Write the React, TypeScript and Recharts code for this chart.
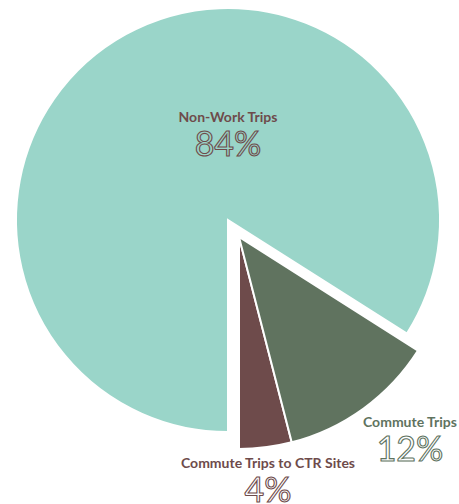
import { Cell, Pie, PieChart } from "recharts";

const categories = ["Commute Trips to CTR Sites", "Commute Trips", "Non-Work Trips"];
const shares = [4, 12, 84];
const colors = ["#6e4b4b", "#60735f", "#9ad5c9"];
const labelColors = ["#6e4b4b", "#60735f", "#6e4b4b"];

// label anchor offsets from the slice's own centre (name baseline)
const labelOffsets = [
  { dx: 29, dy: 231 },
  { dx: 171, dy: 190 },
  { dx: 0, dy: -98 },
];

const data = categories.map((name, i) => ({ name, value: shares[i] }));

const W = 459;
const H = 504;
const R = 212;

// the teal slice and the two commute slices are pulled apart
const groups = [
  { cx: 228, cy: 220, show: [2] },
  { cx: 239, cy: 237, show: [0, 1] },
];

function makeLabel(show: number[], gcx: number, gcy: number) {
  return (props: any) => {
    const i = props.index as number;
    if (!show.includes(i)) return null;
    const cx = props.cx ?? gcx;
    const cy = props.cy ?? gcy;
    const x = cx + labelOffsets[i].dx;
    const y = cy + labelOffsets[i].dy;
    const c = labelColors[i];
    return (
      <g key={`lbl-${i}`}>
        <text
          x={x}
          y={y}
          textAnchor="middle"
          fontFamily="Lato, sans-serif"
          fontWeight={700}
          fontSize={14}
          fill={c}
          stroke="none"
        >
          {categories[i]}
        </text>
        <text
          x={x}
          y={y + 34}
          textAnchor="middle"
          fontFamily="Lato, sans-serif"
          fontWeight={400}
          fontSize={34}
          fill="none"
          stroke={c}
          strokeWidth={1.1}
        >
          {`${shares[i]}%`}
        </text>
      </g>
    );
  };
}

export default function App() {
  return (
    <div style={{ position: "absolute", left: 0, top: 0, width: W, height: H, background: "#fff" }}>
      <PieChart width={W} height={H} margin={{ top: 0, right: 0, bottom: 0, left: 0 }}>
        {groups.map((g, gi) => (
          <Pie
            key={gi}
            data={data}
            dataKey="value"
            nameKey="name"
            cx={g.cx}
            cy={g.cy}
            outerRadius={R}
            innerRadius={0}
            startAngle={-90}
            endAngle={270}
            isAnimationActive={false}
            labelLine={false}
            label={makeLabel(g.show, g.cx, g.cy)}
          >
            {data.map((_, i) => (
              <Cell
                key={`cell-${i}`}
                fill={g.show.includes(i) ? colors[i] : "none"}
                stroke={g.show.includes(i) ? "#fff" : "none"}
                strokeWidth={2}
              />
            ))}
          </Pie>
        ))}
      </PieChart>
    </div>
  );
}
